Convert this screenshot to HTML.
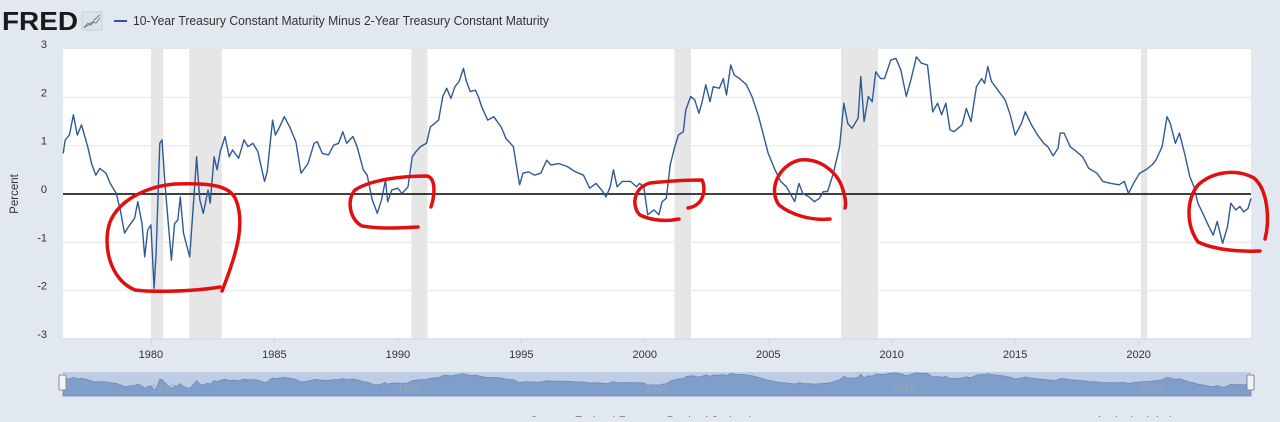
<!DOCTYPE html>
<html><head><meta charset="utf-8">
<style>
html,body{margin:0;padding:0;background:#e1e8f0;}
body{width:1280px;height:417px;overflow:hidden;font-family:"Liberation Sans",sans-serif;}
</style></head>
<body>
<svg id="chart" width="1280" height="417" viewBox="0 0 1280 417" xmlns="http://www.w3.org/2000/svg">
<rect width="1280" height="417" fill="#e1e8f0"/>
<g>
<text x="2" y="30" font-family="Liberation Sans" font-weight="bold" font-size="26" fill="#1a1a1a" textLength="76" lengthAdjust="spacingAndGlyphs">FRED</text>
<rect x="82" y="12" width="20" height="18" fill="#dde3ea" stroke="#c8d0d8"/>
<polyline points="84,28 88,23 91,25 95,19 100,15" fill="none" stroke="#7a9c4a" stroke-width="1.2"/>
<polyline points="84,27 89,25 92,22 96,23 100,18" fill="none" stroke="#5b7fa8" stroke-width="1"/>
</g>
<g>
<line x1="114" y1="21" x2="127" y2="21" stroke="#2f5a96" stroke-width="2"/>
<text x="133" y="25" font-size="12.5" fill="#333" textLength="416" lengthAdjust="spacingAndGlyphs">10-Year Treasury Constant Maturity Minus 2-Year Treasury Constant Maturity</text>
</g>
<rect x="63" y="49" width="1188" height="290" fill="#fff"/>
<g id="rec"></g>
<g id="grid"></g>
<g id="yt"></g>
<g id="xt"></g>
<text transform="translate(18,194) rotate(-90)" text-anchor="middle" font-size="11.5" fill="#333">Percent</text>
<line x1="63" y1="194" x2="1251" y2="194" stroke="#000" stroke-width="1.6"/>
<path id="series" fill="none" stroke="#2f5a96" stroke-width="1.4" stroke-linejoin="round"/>
<g>
<rect x="63" y="372" width="1188" height="24" fill="#bfcde4"/>
<path id="navArea" fill="#7f9ec9" stroke="#6b8bbd" stroke-width="0.8"/>
<g id="navLbl"></g>
<rect x="59" y="375" width="7" height="15" rx="1" fill="#f4f4f4" stroke="#888"/>
<rect x="1247" y="375" width="7" height="15" rx="1" fill="#f4f4f4" stroke="#888"/>
</g>
<text x="530" y="425" font-size="12" fill="#333">Source: Federal Reserve Bank of St. Louis</text>
<text x="1097" y="425" font-size="12" fill="#333">fred.stlouisfed.org</text>
<g fill="none" stroke="#e01010" stroke-width="3.5" stroke-linecap="round">
<path d="M220,287 C190,292 150,292 135,290 C110,280 102,245 110,222 C120,198 150,186 175,184 C205,183 230,184 236,200 C246,225 235,258 222,291"/>
<path d="M418,227 C400,228 380,229 362,226 C350,220 346,200 355,190 C370,180 400,176 427,176 C436,178 435,195 431,207"/>
<path d="M679,219 C665,222 650,220 640,215 C632,208 632,188 650,183 C670,181 690,180 702,180 C706,188 705,205 688,208"/>
<path d="M830,219 C810,221 790,214 779,205 C768,190 778,165 800,160 C820,158 838,172 843,190 C846,200 846,205 845,208"/>
<path d="M1260,251 C1240,252 1215,250 1198,242 C1186,225 1186,200 1198,185 C1212,172 1236,168 1254,178 C1268,190 1270,220 1265,239"/>
</g>
</svg>
<script>
const years=[1976.45,1976.53,1976.7,1976.86,1977.02,1977.19,1977.44,1977.6,1977.77,1977.93,1978.18,1978.35,1978.6,1978.76,1978.93,1979.09,1979.34,1979.47,1979.64,1979.75,1979.87,1980.0,1980.13,1980.21,1980.36,1980.45,1980.58,1980.83,1980.96,1981.09,1981.19,1981.32,1981.57,1981.79,1981.85,1981.98,1982.12,1982.31,1982.4,1982.56,1982.68,1982.81,1983.0,1983.17,1983.31,1983.55,1983.77,1983.93,1984.13,1984.33,1984.6,1984.71,1984.93,1985.04,1985.21,1985.4,1985.62,1985.87,1986.08,1986.36,1986.61,1986.74,1986.94,1987.19,1987.4,1987.6,1987.77,1987.93,1988.18,1988.35,1988.6,1988.76,1988.96,1989.17,1989.34,1989.5,1989.59,1989.75,1990.0,1990.17,1990.41,1990.58,1990.74,1990.91,1991.16,1991.32,1991.65,1991.82,1991.98,1992.15,1992.31,1992.48,1992.66,1992.76,1992.93,1993.14,1993.26,1993.39,1993.64,1993.88,1994.18,1994.38,1994.68,1994.79,1994.93,1995.07,1995.29,1995.54,1995.79,1996.03,1996.2,1996.53,1996.86,1997.19,1997.52,1997.77,1998.02,1998.26,1998.43,1998.6,1998.73,1998.88,1999.09,1999.42,1999.67,1999.79,1999.96,2000.12,2000.37,2000.57,2000.7,2000.87,2001.03,2001.2,2001.36,2001.56,2001.66,2001.86,2002.02,2002.19,2002.31,2002.47,2002.64,2002.77,2003.02,2003.18,2003.31,2003.48,2003.63,2003.84,2004.12,2004.34,2004.59,2004.75,2005.0,2005.25,2005.5,2005.74,2006.07,2006.24,2006.4,2006.65,2006.87,2007.07,2007.23,2007.4,2007.64,2007.89,2008.06,2008.22,2008.39,2008.64,2008.75,2008.88,2009.05,2009.21,2009.35,2009.55,2009.71,2009.96,2010.17,2010.37,2010.59,2010.79,2011.0,2011.2,2011.45,2011.66,2011.86,2012.02,2012.19,2012.36,2012.52,2012.85,2013.02,2013.21,2013.43,2013.64,2013.76,2013.89,2014.04,2014.34,2014.59,2014.8,2015.0,2015.25,2015.41,2015.66,2015.91,2016.16,2016.32,2016.54,2016.74,2016.82,2016.98,2017.23,2017.48,2017.73,2017.98,2018.31,2018.55,2018.88,2019.21,2019.42,2019.59,2019.79,2020.04,2020.29,2020.54,2020.7,2020.95,2021.15,2021.28,2021.49,2021.65,2021.86,2022.07,2022.24,2022.4,2022.6,2022.85,2023.02,2023.18,2023.4,2023.6,2023.73,2023.93,2024.1,2024.26,2024.43,2024.55];
const spread=[0.84,1.12,1.22,1.64,1.22,1.43,0.98,0.63,0.39,0.53,0.43,0.22,0.01,-0.33,-0.81,-0.68,-0.5,-0.16,-0.61,-1.3,-0.75,-0.64,-1.95,-1.23,1.05,1.12,0.15,-1.37,-0.61,-0.54,-0.06,-0.81,-1.3,0.29,0.77,-0.12,-0.4,0.08,-0.19,0.77,0.5,0.88,1.19,0.77,0.91,0.74,1.12,0.98,1.05,0.88,0.26,0.46,1.53,1.22,1.39,1.6,1.39,1.08,0.43,0.63,1.05,1.08,0.84,0.81,1.01,1.05,1.29,1.05,1.19,0.98,0.5,0.39,-0.12,-0.4,-0.12,0.29,-0.16,0.08,0.12,0.01,0.15,0.77,0.88,0.98,1.05,1.39,1.53,2.02,2.19,1.98,2.22,2.33,2.6,2.36,2.12,2.15,2.02,1.81,1.53,1.6,1.39,1.15,0.98,0.63,0.19,0.43,0.46,0.39,0.43,0.7,0.6,0.63,0.57,0.46,0.39,0.12,0.22,0.08,-0.06,0.15,0.5,0.15,0.26,0.26,0.15,0.22,0.15,-0.43,-0.33,-0.43,-0.16,-0.09,0.6,0.95,1.22,1.29,1.74,2.02,1.95,1.67,1.88,2.26,1.91,2.22,2.19,2.39,2.05,2.67,2.46,2.39,2.26,2.02,1.64,1.33,0.84,0.53,0.26,0.15,-0.16,0.22,0.01,-0.06,-0.16,-0.09,0.05,0.05,0.43,0.98,1.88,1.46,1.36,1.57,2.43,1.5,2.02,1.91,2.53,2.39,2.39,2.77,2.81,2.57,2.02,2.39,2.84,2.71,2.67,1.7,1.88,1.64,1.88,1.33,1.29,1.43,1.77,1.5,2.22,2.39,2.29,2.64,2.33,2.12,1.95,1.64,1.22,1.46,1.7,1.43,1.22,1.05,0.98,0.79,0.95,1.26,1.26,0.98,0.88,0.77,0.53,0.43,0.26,0.22,0.19,0.26,0.01,0.22,0.43,0.5,0.6,0.7,0.98,1.6,1.46,1.05,1.26,0.84,0.36,0.15,-0.19,-0.4,-0.68,-0.85,-0.57,-1.02,-0.68,-0.19,-0.33,-0.26,-0.37,-0.3,-0.09];
const recStart=[1980.0,1981.55,1990.55,2001.2,2007.95,2020.1];
const recEnd=[1980.5,1982.87,1991.2,2001.87,2009.45,2020.35];
const yTicks=[3,2,1,0,-1,-2,-3];
const xTicks=[1980,1985,1990,1995,2000,2005,2010,2015,2020];
const navTicks=[1980,1990,2000,2010,2020];

const NS="http://www.w3.org/2000/svg";
const X0=63,X1=1251,T0=1976.44,T1=2024.55;
const x=t=>X0+(t-T0)/(T1-T0)*(X1-X0);
const y=v=>194-v*48.3;
const ny=v=>383.5-v*3.8;
function mk(tag,attrs,parent){const e=document.createElementNS(NS,tag);for(const k in attrs)e.setAttribute(k,attrs[k]);parent.appendChild(e);return e;}
const rec=document.getElementById('rec');
recStart.forEach((s,i)=>{
 const r=mk('rect',{x:x(s),y:49,width:Math.max(3,x(recEnd[i])-x(s)),height:290,fill:'#e6e6e6'},rec);
 
 
});
const grid=document.getElementById('grid'),yt=document.getElementById('yt'),xt=document.getElementById('xt');
yTicks.forEach(v=>{
 if(v!==0&&v!==3){const l=mk('line',{x1:X0,x2:X1,y1:y(v),y2:y(v),stroke:'#e6e6e6','stroke-width':1},grid);
 
 }
 const t=mk('text',{x:47,y:y(v)-1,'text-anchor':'end','font-size':11,fill:'#333'},yt);
 t.textContent=v;
 
 
});
mk('line',{x1:X0,x2:X1,y1:339,y2:339,stroke:'#ccd6eb'},xt);
xTicks.forEach(v=>{
 mk('line',{x1:x(v),x2:x(v),y1:339,y2:345,stroke:'#ccd6eb'},xt);
 const t=mk('text',{x:x(v),y:358,'text-anchor':'middle','font-size':11,fill:'#333'},xt);
 t.textContent=v;
 
 
});
document.getElementById('series').setAttribute('d',years.map((t,i)=>(i?'L':'M')+x(t).toFixed(1)+','+y(spread[i]).toFixed(1)).join(''));
document.getElementById('navArea').setAttribute('d','M'+X0+',396 '+years.map((t,i)=>'L'+x(t).toFixed(1)+','+ny(spread[i]).toFixed(1)).join('')+'L'+X1+',396Z');
const nl=document.getElementById('navLbl');
navTicks.forEach(v=>{
 const t=mk('text',{x:x(v)+12,y:392,'text-anchor':'middle','font-size':11,fill:'#9aa6b8'},nl);
 t.textContent=v;
 
 
});
</script>
</body></html>
